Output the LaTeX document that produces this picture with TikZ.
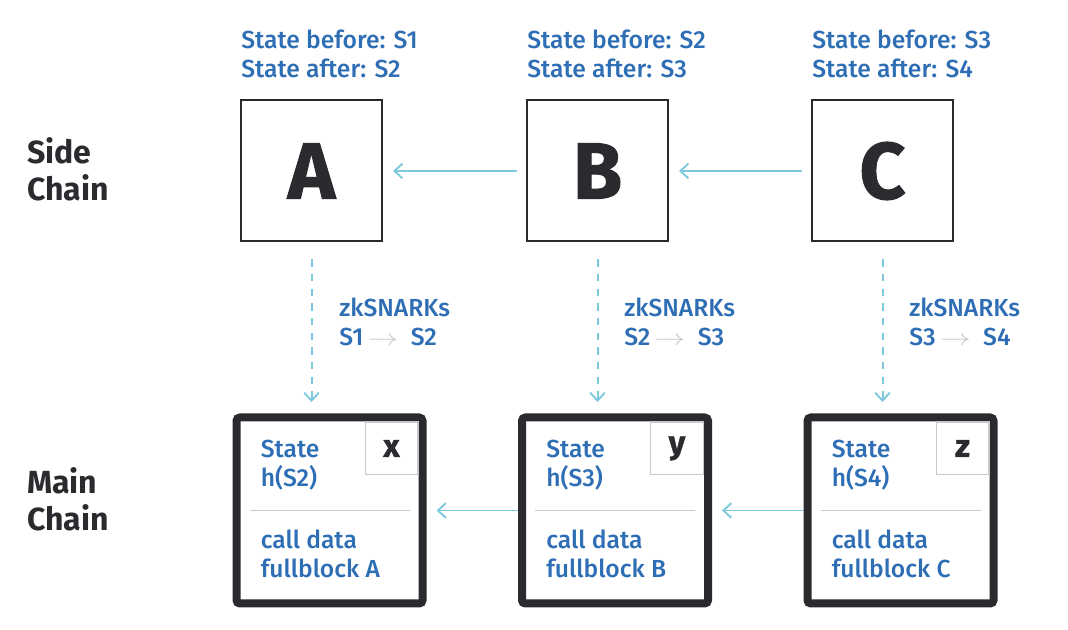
\documentclass[tikz,border=0pt]{standalone}
\usepackage{fontspec}
\setmainfont{Fira Sans}
\newfontfamily\heavyfont[FakeBold=1.2]{Fira Sans Bold}
\IfFontExistsTF{Fira Sans Medium}{\newfontfamily\infofont{Fira Sans Medium}}{\newfontfamily\infofont[FakeBold=0.3]{Fira Sans}}
\usepackage{tikz}
\usetikzlibrary{arrows.meta}

\definecolor{ink}{HTML}{2A2B2E}
\definecolor{infoblue}{HTML}{2E6EB4}
\definecolor{linkblue}{HTML}{7DC8DC}
\definecolor{rulegray}{HTML}{C9C9C9}

\newcommand{\steparrow}{\,{\color{rulegray}\scalebox{1.35}[1]{$\rightarrow$}}\,\,\,}

\begin{document}
\begin{tikzpicture}[x=0.75pt,y=-0.75pt,
		sidebox/.style={draw=ink, line width=1.5pt, minimum size=105.75pt, inner sep=0pt, text=ink, font=\heavyfont\fontsize{60}{60}\selectfont},
		mainbox/.style={draw=ink, line width=6pt, rounded corners=2.5pt, minimum size=139.5pt, inner sep=0pt},
		tagbox/.style={draw=rulegray, line width=1pt, minimum size=39.5pt, inner sep=0pt, anchor=north east, text=ink, font=\heavyfont\fontsize{24}{24}\selectfont},
		link/.style={draw=linkblue, line width=1.4pt, -{Straight Barb[length=6pt,width=11pt,line width=1.4pt]}},
		proof/.style={link, line width=1.5pt, dash pattern=on 5.5pt off 5.5pt},
		info/.style={text=infoblue, inner sep=0pt, anchor=north west, align=left, font=\infofont\fontsize{18.5}{21.75}\selectfont},
		chainlabel/.style={text=ink, inner sep=0pt, anchor=north west, align=left, font=\bfseries\fontsize{24}{27.75}\selectfont}
	]
	\useasboundingbox (0,0) rectangle (1068,630);
	
	% side chain
	\node[sidebox] (sideA) at (311.5,171) {A};
	\node[sidebox] (sideB) at (597.5,171) {B};
	\node[sidebox] (sideC) at (882.5,171) {C};
	
	\node[info] (stateA) at (241,30) {State before: S1\\State after: S2};
	\node[info] (stateB) at (527,30) {State before: S2\\State after: S3};
	\node[info] (stateC) at (812,30) {State before: S3\\State after: S4};
	
	\draw[link, shorten <=6.75pt, shorten >=7.5pt] (sideB) -- (sideA);
	\draw[link, shorten <=6.75pt, shorten >=7.5pt] (sideC) -- (sideB);
	
	\node[chainlabel] (sidelabel) at (27,137) {Side\\Chain};
	\node[chainlabel] (mainlabel) at (27,467) {Main\\Chain};
	
	% main chain
	\foreach \n/\cx/\st/\blk in {x/329.5/S2/A, y/615/S3/B, z/900.5/S4/C}{
		\node[mainbox] (main\n) at (\cx,510.5) {};
		\node[tagbox] (tag\n) at ([xshift=-6pt,yshift=-6pt]main\n.north east) {\n};
		\node[info] (hash\n) at ([xshift=21pt,yshift=-19.9pt]main\n.north west) {State\\h(\st)};
		\draw[rulegray, line width=1pt] ([xshift=12.75pt]main\n.west) -- ([xshift=-12.75pt]main\n.east);
		\node[info] (data\n) at ([xshift=21pt,yshift=-87.4pt]main\n.north west) {call data\\fullblock \blk};
	}
	
	\draw[link] (mainy) -- ([xshift=7.5pt]mainx.east);
	\draw[link] (mainz) -- ([xshift=7.5pt]mainy.east);
	
	% proofs
	\draw[proof, shorten <=12.75pt, shorten >=8.6pt] (sideA.south) -- (sideA.south |- mainx.north);
	\draw[proof, shorten <=12.75pt, shorten >=8.6pt] (sideB.south) -- (sideB.south |- mainy.north);
	\draw[proof, shorten <=12.75pt, shorten >=8.6pt] (sideC.south) -- (sideC.south |- mainz.north);
	
	\node[info] (proofA) at (339,298) {zkSNARKs\\S1\steparrow S2};
	\node[info] (proofB) at (624,298) {zkSNARKs\\S2\steparrow S3};
	\node[info] (proofC) at (909,298) {zkSNARKs\\S3\steparrow S4};
\end{tikzpicture}
\end{document}
